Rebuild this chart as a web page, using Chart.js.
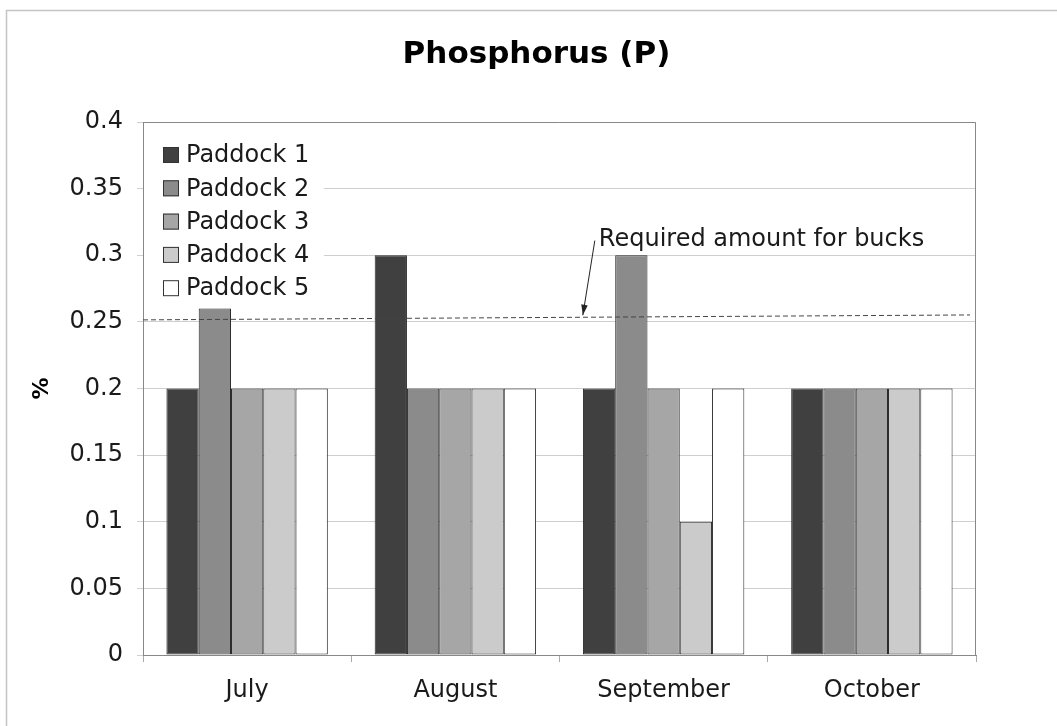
<!DOCTYPE html>
<html>
<head>
<meta charset="utf-8">
<script src="https://cdn.jsdelivr.net/npm/chart.js@4.4.1/dist/chart.umd.min.js"></script>
<style>
  html, body { margin: 0; padding: 0; background: #fff; }
  #wrap { width: 1057px; height: 726px; }
</style>
</head>
<body>
<div id="wrap"><canvas id="c" width="1057" height="726"></canvas></div>
<script>
// Phosphorus (P) by paddock and month
const months = ['July', 'August', 'September', 'October'];
const paddocks = ['Paddock 1', 'Paddock 2', 'Paddock 3', 'Paddock 4', 'Paddock 5'];
const paddock1 = [0.2, 0.3, 0.2, 0.2];
const paddock2 = [0.26, 0.2, 0.3, 0.2];
const paddock3 = [0.2, 0.2, 0.2, 0.2];
const paddock4 = [0.2, 0.2, 0.1, 0.2];
const paddock5 = [0.2, 0.2, 0.2, 0.2];
const yTicks = [0, 0.05, 0.1, 0.15, 0.2, 0.25, 0.3, 0.35, 0.4];
// required amount line, left end / right end (drawn slightly sloped in the source)
const requiredLine = [0.2515, 0.2552];
const requiredLabel = 'Required amount for bucks';

const fills = ['#404040', '#8b8b8b', '#a6a6a6', '#cbcbcb', '#ffffff'];
const FONT = 'DejaVu Sans, Verdana, sans-serif';

const series = [paddock1, paddock2, paddock3, paddock4, paddock5];

const extras = {
  id: 'extras',
  beforeDraw(chart) {
    const { ctx } = chart;
    ctx.save();
    ctx.strokeStyle = '#c4c4c4';
    ctx.lineWidth = 1.5;
    ctx.beginPath();
    ctx.moveTo(6.5, 730);
    ctx.lineTo(6.5, 10.5);
    ctx.lineTo(1060, 10.5);
    ctx.stroke();
    ctx.restore();
  },
  afterDatasetsDraw(chart) {
    const { ctx, chartArea: a, scales } = chart;
    const y = scales.y;
    ctx.save();

    // plot border (top + right)
    ctx.strokeStyle = '#888';
    ctx.lineWidth = 1;
    ctx.beginPath();
    ctx.moveTo(a.left, a.top + 0.5);
    ctx.lineTo(a.right - 0.5, a.top + 0.5);
    ctx.lineTo(a.right - 0.5, a.bottom);
    ctx.stroke();

    // required amount dashed line
    const y0 = y.getPixelForValue(requiredLine[0]);
    const y1 = y.getPixelForValue(requiredLine[1]);
    const xEnd = a.right - 6;
    ctx.strokeStyle = '#444';
    ctx.setLineDash([5, 3]);
    ctx.beginPath();
    ctx.moveTo(a.left, y0);
    ctx.lineTo(xEnd, y1);
    ctx.stroke();
    ctx.setLineDash([]);

    // arrow + label
    const hx = a.left + 0.528 * (a.right - a.left);
    const hy = y0 + (y1 - y0) * (hx - a.left) / (xEnd - a.left) - 2;
    const tx = hx + 12;
    const ty = y.getPixelForValue(0.311);
    ctx.strokeStyle = '#222';
    ctx.fillStyle = '#222';
    ctx.lineWidth = 1;
    ctx.beginPath();
    ctx.moveTo(tx, ty);
    ctx.lineTo(hx, hy);
    ctx.stroke();
    const ang = Math.atan2(hy - ty, hx - tx);
    ctx.beginPath();
    ctx.moveTo(hx, hy);
    ctx.lineTo(hx - 11 * Math.cos(ang - 0.3), hy - 11 * Math.sin(ang - 0.3));
    ctx.lineTo(hx - 11 * Math.cos(ang + 0.3), hy - 11 * Math.sin(ang + 0.3));
    ctx.closePath();
    ctx.fill();
    ctx.font = '24px ' + FONT;
    ctx.fillStyle = '#1a1a1a';
    ctx.textBaseline = 'middle';
    ctx.textAlign = 'left';
    ctx.fillText(requiredLabel, tx + 4, ty - 1);

    // legend inside plot, top-left
    const lx = a.left + 20;
    const ly = a.top + 33;
    const step = 33.3;
    ctx.fillStyle = '#fff';
    ctx.fillRect(a.left + 1, a.top + 14, 180, step * 5 + 4);
    ctx.font = '24px ' + FONT;
    chart.data.datasets.forEach((ds, i) => {
      const cy = ly + i * step;
      ctx.fillStyle = ds.backgroundColor;
      ctx.fillRect(lx, cy - 8, 16, 16);
      ctx.strokeStyle = '#333';
      ctx.strokeRect(lx + 0.5, cy - 7.5, 15, 15);
      ctx.fillStyle = '#1a1a1a';
      ctx.fillText(ds.label, lx + 23, cy + 1);
    });
    ctx.restore();
  }
};

new Chart(document.getElementById('c'), {
  type: 'bar',
  data: {
    labels: months,
    datasets: paddocks.map((name, i) => ({
      label: name,
      data: series[i],
      backgroundColor: fills[i],
      borderColor: '#2a2a2a',
      borderWidth: 1,
      borderSkipped: false,
      categoryPercentage: 0.775,
      barPercentage: 1.0
    }))
  },
  options: {
    responsive: false,
    animation: false,
    layout: { padding: { left: 16, right: 0, top: 0, bottom: 0 } },
    plugins: {
      legend: { display: false },
      tooltip: { enabled: false },
      title: {
        display: true,
        text: 'Phosphorus (P)',
        color: '#000',
        font: { family: FONT, size: 31, weight: 'bold' },
        padding: { top: 36, bottom: 48.8 }
      }
    },
    scales: {
      x: {
        afterFit: (s) => { s.height = 71; },
        grid: {
          offset: true,
          drawOnChartArea: false,
          color: '#aaa',
          tickLength: 7
        },
        border: { color: '#888' },
        ticks: {
          color: '#1a1a1a',
          font: { family: FONT, size: 24 },
          padding: 14
        }
      },
      y: {
        min: 0,
        max: 0.4,
        afterFit: (s) => { s.width = 127; },
        afterBuildTicks: (s) => { s.ticks = yTicks.map((v) => ({ value: v })); },
        grid: { color: '#cfcfcf', tickLength: 6 },
        border: { color: '#888' },
        ticks: {
          color: '#1a1a1a',
          font: { family: FONT, size: 24 },
          padding: 14,
          callback: (v) => String(Number(v.toFixed(2)))
        },
        title: {
          display: true,
          text: '%',
          color: '#000',
          font: { family: FONT, size: 22, weight: 'bold' },
          padding: { top: 13, bottom: 0 }
        }
      },
      // empty right-hand axis that only reserves the margin to the right of the plot
      spacer: {
        type: 'linear',
        position: 'right',
        afterFit: (s) => { s.width = 81; },
        grid: { display: false, drawTicks: false },
        border: { display: false },
        ticks: { display: false }
      }
    }
  },
  plugins: [extras]
});
</script>
</body>
</html>
